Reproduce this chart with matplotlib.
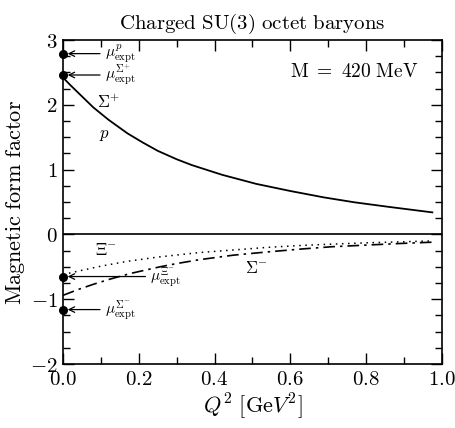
import matplotlib
matplotlib.use("Agg")
import matplotlib.pyplot as plt
from matplotlib.ticker import MultipleLocator, FuncFormatter

plt.rcParams["mathtext.fontset"] = "cm"
plt.rcParams["font.family"] = "serif"
plt.rcParams["font.serif"] = ["DejaVu Serif"]

# solid curve (Sigma+ and p coincide)
q2_plus = [0.0, 0.02, 0.05, 0.08, 0.12, 0.17, 0.21, 0.25, 0.30, 0.34, 0.42, 0.51, 0.60, 0.69, 0.77, 0.86, 0.975]
gm_plus = [2.42, 2.30, 2.13, 1.96, 1.77, 1.56, 1.42, 1.29, 1.16, 1.07, 0.92, 0.78, 0.67, 0.57, 0.495, 0.425, 0.34]

# dotted curve (Xi-)
q2_xi = [0.0, 0.045, 0.10, 0.17, 0.25, 0.36, 0.45, 0.54, 0.63, 0.71, 0.80, 0.89, 0.975]
gm_xi = [-0.62, -0.56, -0.49, -0.415, -0.35, -0.28, -0.24, -0.20, -0.17, -0.15, -0.13, -0.115, -0.10]

# dash-dot curve (Sigma-)
q2_sm = [0.0, 0.04, 0.08, 0.124, 0.18, 0.256, 0.30, 0.36, 0.45, 0.54, 0.63, 0.71, 0.80, 0.89, 0.975]
gm_sm = [-0.94, -0.85, -0.77, -0.69, -0.60, -0.50, -0.45, -0.39, -0.32, -0.27, -0.225, -0.19, -0.165, -0.14, -0.12]

# experimental moments at Q^2 = 0
mu_names = ["p", r"\Sigma^{+}", r"\Xi^{-}", r"\Sigma^{-}"]
mu_vals = [2.79, 2.46, -0.65, -1.16]
mu_label_x = [0.11, 0.11, 0.23, 0.11]

fig = plt.figure(figsize=(4.55, 4.28), dpi=100)
ax = fig.add_axes([0.1385, 0.1495, 0.8325, 0.757])

ax.axhline(0, color="black", lw=1.2)
ax.plot(q2_plus, gm_plus, color="black", lw=1.3)
ax.plot(q2_xi, gm_xi, color="black", lw=1.1, linestyle=(0, (1, 3)))
ax.plot(q2_sm, gm_sm, color="black", lw=1.2, linestyle=(0, (7, 3, 1.5, 3)))

ax.plot([0] * len(mu_vals), mu_vals, "o", color="black", ms=5.5, clip_on=False, zorder=5)
for name, v, lx in zip(mu_names, mu_vals, mu_label_x):
    ax.annotate("", xy=(0.005, v), xytext=(lx - 0.005, v),
                arrowprops=dict(arrowstyle="->", color="black", lw=0.9))
    ax.text(lx, v, r"$\mu^{%s}_{\rm expt}$" % name, fontsize=11, va="center", ha="left")

ax.text(0.09, 2.03, r"$\Sigma^{+}$", fontsize=12, ha="left", va="center")
ax.text(0.095, 1.54, r"$p$", fontsize=12, ha="left", va="center")
ax.text(0.085, -0.25, r"$\Xi^{-}$", fontsize=12, ha="left", va="center")
ax.text(0.48, -0.52, r"$\Sigma^{-}$", fontsize=12, ha="left", va="center")
ax.text(0.6, 2.5, r"$\mathrm{M\ =\ 420\ MeV}$", fontsize=14, ha="left", va="center")

ax.set_xlim(0, 1.0)
ax.set_ylim(-2, 3)
ax.xaxis.set_major_locator(MultipleLocator(0.2))
ax.xaxis.set_minor_locator(MultipleLocator(0.1))
ax.yaxis.set_major_locator(MultipleLocator(1))
ax.yaxis.set_minor_locator(MultipleLocator(0.25))
ax.xaxis.set_major_formatter(FuncFormatter(lambda v, p: r"$%.1f$" % v))
ax.yaxis.set_major_formatter(FuncFormatter(lambda v, p: r"$%d$" % round(v)))
ax.tick_params(which="both", direction="in", top=True, right=True, width=1.0, labelsize=15)
ax.tick_params(which="major", length=8, pad=4)
ax.tick_params(which="minor", length=5)
for s in ax.spines.values():
    s.set_linewidth(1.2)

ax.set_title(r"$\mathrm{Charged\ SU(3)\ octet\ baryons}$", fontsize=15, pad=8)
ax.set_xlabel(r"$Q^2\ [\mathrm{Ge}V^2]$", fontsize=16, labelpad=2)
ax.set_ylabel(r"$\mathrm{Magnetic\ form\ factor}$", fontsize=16, labelpad=2)

fig.savefig("out.png", dpi=100)
